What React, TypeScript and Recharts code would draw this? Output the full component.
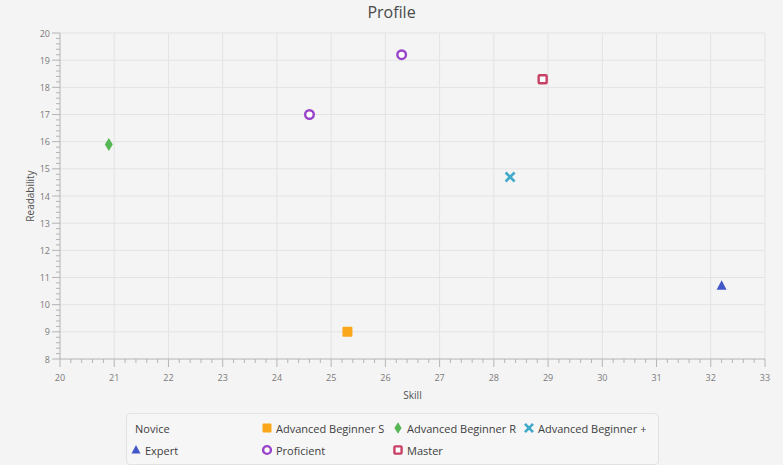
import React from 'react';
import { ScatterChart, Scatter, XAxis, YAxis, ReferenceLine } from 'recharts';

const FONT = '"Open Sans", "Noto Sans", "DejaVu Sans", sans-serif';

// axis ticks
const skillTicks = [20, 21, 22, 23, 24, 25, 26, 27, 28, 29, 30, 31, 32, 33];
const readabilityTicks = [8, 9, 10, 11, 12, 13, 14, 15, 16, 17, 18, 19, 20];

// one small array pair per series (skill, readability)
const noviceSkill: number[] = [];
const noviceReadability: number[] = [];
const advSSkill = [25.3];
const advSReadability = [9.0];
const advRSkill = [20.9];
const advRReadability = [15.9];
const advPlusSkill = [28.3];
const advPlusReadability = [14.7];
const expertSkill = [32.2];
const expertReadability = [10.7];
const proficientSkill = [24.6, 26.3];
const proficientReadability = [17.0, 19.2];
const masterSkill = [28.9];
const masterReadability = [18.3];

type Kind = 'none' | 'square' | 'diamond' | 'cross' | 'triangle' | 'ring' | 'box';

interface SeriesDef {
  name: string;
  color: string;
  kind: Kind;
  skill: number[];
  readability: number[];
}

const series: SeriesDef[] = [
  { name: 'Novice', color: '#f3622d', kind: 'none', skill: noviceSkill, readability: noviceReadability },
  { name: 'Advanced Beginner S', color: '#fba71b', kind: 'square', skill: advSSkill, readability: advSReadability },
  { name: 'Advanced Beginner R', color: '#57b757', kind: 'diamond', skill: advRSkill, readability: advRReadability },
  { name: 'Advanced Beginner +', color: '#41a9c9', kind: 'cross', skill: advPlusSkill, readability: advPlusReadability },
  { name: 'Expert', color: '#4258c9', kind: 'triangle', skill: expertSkill, readability: expertReadability },
  { name: 'Proficient', color: '#9a42c8', kind: 'ring', skill: proficientSkill, readability: proficientReadability },
  { name: 'Master', color: '#c84164', kind: 'box', skill: masterSkill, readability: masterReadability },
];

// major ticks plus four minor marks in between
const withMinor = (ticks: number[]) => {
  const out: number[] = [];
  for (let i = 0; i < ticks.length; i++) {
    out.push(ticks[i]);
    if (i === ticks.length - 1) break;
    for (let k = 1; k < 5; k++) out.push(+(ticks[i] + k * 0.2).toFixed(1));
  }
  return out;
};
const skillAll = withMinor(skillTicks);
const readabilityAll = withMinor(readabilityTicks);
const isMajor = (v: number) => Math.abs(v - Math.round(v)) < 1e-6;

const AXIS = '#b4b4b4';
const GRID = '#e3e3e3';
const TICK_FILL = '#7a7a7a';

const SkillTick = ({ x, y, payload }: any) => {
  const major = isMajor(payload.value);
  return (
    <g>
      <line x1={x} y1={y} x2={x} y2={y + (major ? 8 : 4)} stroke={AXIS} />
      {major && (
        <text x={x} y={y + 18} textAnchor="middle" dominantBaseline="central" fontSize={9} fill={TICK_FILL} fontFamily={FONT}>
          {payload.value}
        </text>
      )}
    </g>
  );
};

const ReadabilityTick = ({ x, y, payload }: any) => {
  const major = isMajor(payload.value);
  return (
    <g>
      <line x1={x} y1={y} x2={x - (major ? 8 : 4)} y2={y} stroke={AXIS} />
      {major && (
        <text x={x - 10} y={y} textAnchor="end" dominantBaseline="central" fontSize={9} fill={TICK_FILL} fontFamily={FONT}>
          {payload.value}
        </text>
      )}
    </g>
  );
};

const Marker = ({ kind, color, cx, cy, s = 1 }: { kind: Kind; color: string; cx: number; cy: number; s?: number }) => {
  switch (kind) {
    case 'square':
      return <rect x={cx - 5 * s} y={cy - 5 * s} width={10 * s} height={10 * s} rx={1} fill={color} />;
    case 'diamond':
      return (
        <polygon
          points={`${cx},${cy - 6.5 * s} ${cx + 4 * s},${cy} ${cx},${cy + 6.5 * s} ${cx - 4 * s},${cy}`}
          fill={color}
        />
      );
    case 'cross':
      return (
        <g stroke={color} strokeWidth={2.6} strokeLinecap="butt">
          <line x1={cx - 4.5 * s} y1={cy - 4.5 * s} x2={cx + 4.5 * s} y2={cy + 4.5 * s} />
          <line x1={cx - 4.5 * s} y1={cy + 4.5 * s} x2={cx + 4.5 * s} y2={cy - 4.5 * s} />
        </g>
      );
    case 'triangle':
      return (
        <polygon
          points={`${cx},${cy - 5.5 * s} ${cx + 5 * s},${cy + 4 * s} ${cx - 5 * s},${cy + 4 * s}`}
          fill={color}
        />
      );
    case 'ring':
      return <circle cx={cx} cy={cy} r={4.3 * s} fill="#ffffff" stroke={color} strokeWidth={2.4} />;
    case 'box':
      return (
        <rect
          x={cx - 4 * s}
          y={cy - 4 * s}
          width={8 * s}
          height={8 * s}
          rx={1}
          fill="#ffffff"
          stroke={color}
          strokeWidth={2.4}
        />
      );
    default:
      return <g />;
  }
};

const LegendBox = () => (
  <div
    style={{
      position: 'absolute',
      left: 126,
      top: 413,
      width: 527,
      height: 47,
      border: '1px solid #e2e2e2',
      borderRadius: 4,
      background: '#f6f6f6',
      fontFamily: FONT,
      fontSize: 11,
      color: '#404040',
      display: 'grid',
      gridTemplateColumns: 'repeat(4, 131px)',
      gridAutoRows: 22,
      paddingLeft: 4,
      paddingTop: 3,
      boxSizing: 'content-box',
    }}
  >
    {series.map((s) => (
      <div key={s.name} style={{ display: 'flex', alignItems: 'center', whiteSpace: 'nowrap' }}>
        {s.kind !== 'none' && (
          <svg width={10} height={12} style={{ marginRight: 4, flex: 'none' }}>
            <Marker kind={s.kind} color={s.color} cx={5} cy={6} s={0.9} />
          </svg>
        )}
        {s.kind === 'none' && <span style={{ width: 4 }} />}
        <span>{s.name}</span>
      </div>
    ))}
  </div>
);

export default function App() {
  return (
    <div style={{ position: 'relative', width: 783, height: 465, background: '#f4f4f4', overflow: 'hidden' }}>
      <style>{'body{margin:0}'}</style>
      <div
        style={{
          position: 'absolute',
          top: 1,
          width: 783,
          textAlign: 'center',
          fontFamily: FONT,
          fontSize: 16,
          color: '#4a4a4a',
        }}
      >
        Profile
      </div>
      <ScatterChart width={783} height={465} margin={{ top: 33, right: 18, bottom: 61, left: 0 }}>
        <XAxis
          type="number"
          dataKey="x"
          domain={[20, 33]}
          ticks={skillAll}
          interval={0}
          height={45}
          tickSize={0}
          tickMargin={0}
          tick={<SkillTick />}
          tickLine={false}
          axisLine={{ stroke: AXIS }}
          label={({ viewBox }: any) => (
            <text
              x={viewBox.x + viewBox.width / 2}
              y={viewBox.y + 36}
              textAnchor="middle"
              dominantBaseline="central"
              fontFamily={FONT}
              fontSize={10}
              fill="#505050"
            >
              Skill
            </text>
          )}
        />
        <YAxis
          type="number"
          dataKey="y"
          domain={[8, 20]}
          ticks={readabilityAll}
          interval={0}
          width={60}
          tickSize={0}
          tickMargin={0}
          tick={<ReadabilityTick />}
          tickLine={false}
          axisLine={{ stroke: AXIS }}
          label={({ viewBox }: any) => {
            const cx = viewBox.x + 30;
            const cy = viewBox.y + viewBox.height / 2;
            return (
              <text
                x={cx}
                y={cy}
                transform={`rotate(-90 ${cx} ${cy})`}
                textAnchor="middle"
                dominantBaseline="central"
                fontFamily={FONT}
                fontSize={10}
                fill="#505050"
              >
                Readability
              </text>
            );
          }}
        />
        {/* grid lines on whole-number values only */}
        {skillTicks.slice(1).map((t) => (
          <ReferenceLine key={`gx${t}`} x={t} stroke={GRID} />
        ))}
        {readabilityTicks.slice(1).map((t) => (
          <ReferenceLine key={`gy${t}`} y={t} stroke={GRID} />
        ))}
        {series.map((s) => (
          <Scatter
            key={s.name}
            name={s.name}
            data={s.skill.map((x, i) => ({ x, y: s.readability[i] }))}
            isAnimationActive={false}
            shape={(p: any) => <Marker kind={s.kind} color={s.color} cx={p.cx} cy={p.cy} />}
          />
        ))}
      </ScatterChart>
      <LegendBox />
    </div>
  );
}
